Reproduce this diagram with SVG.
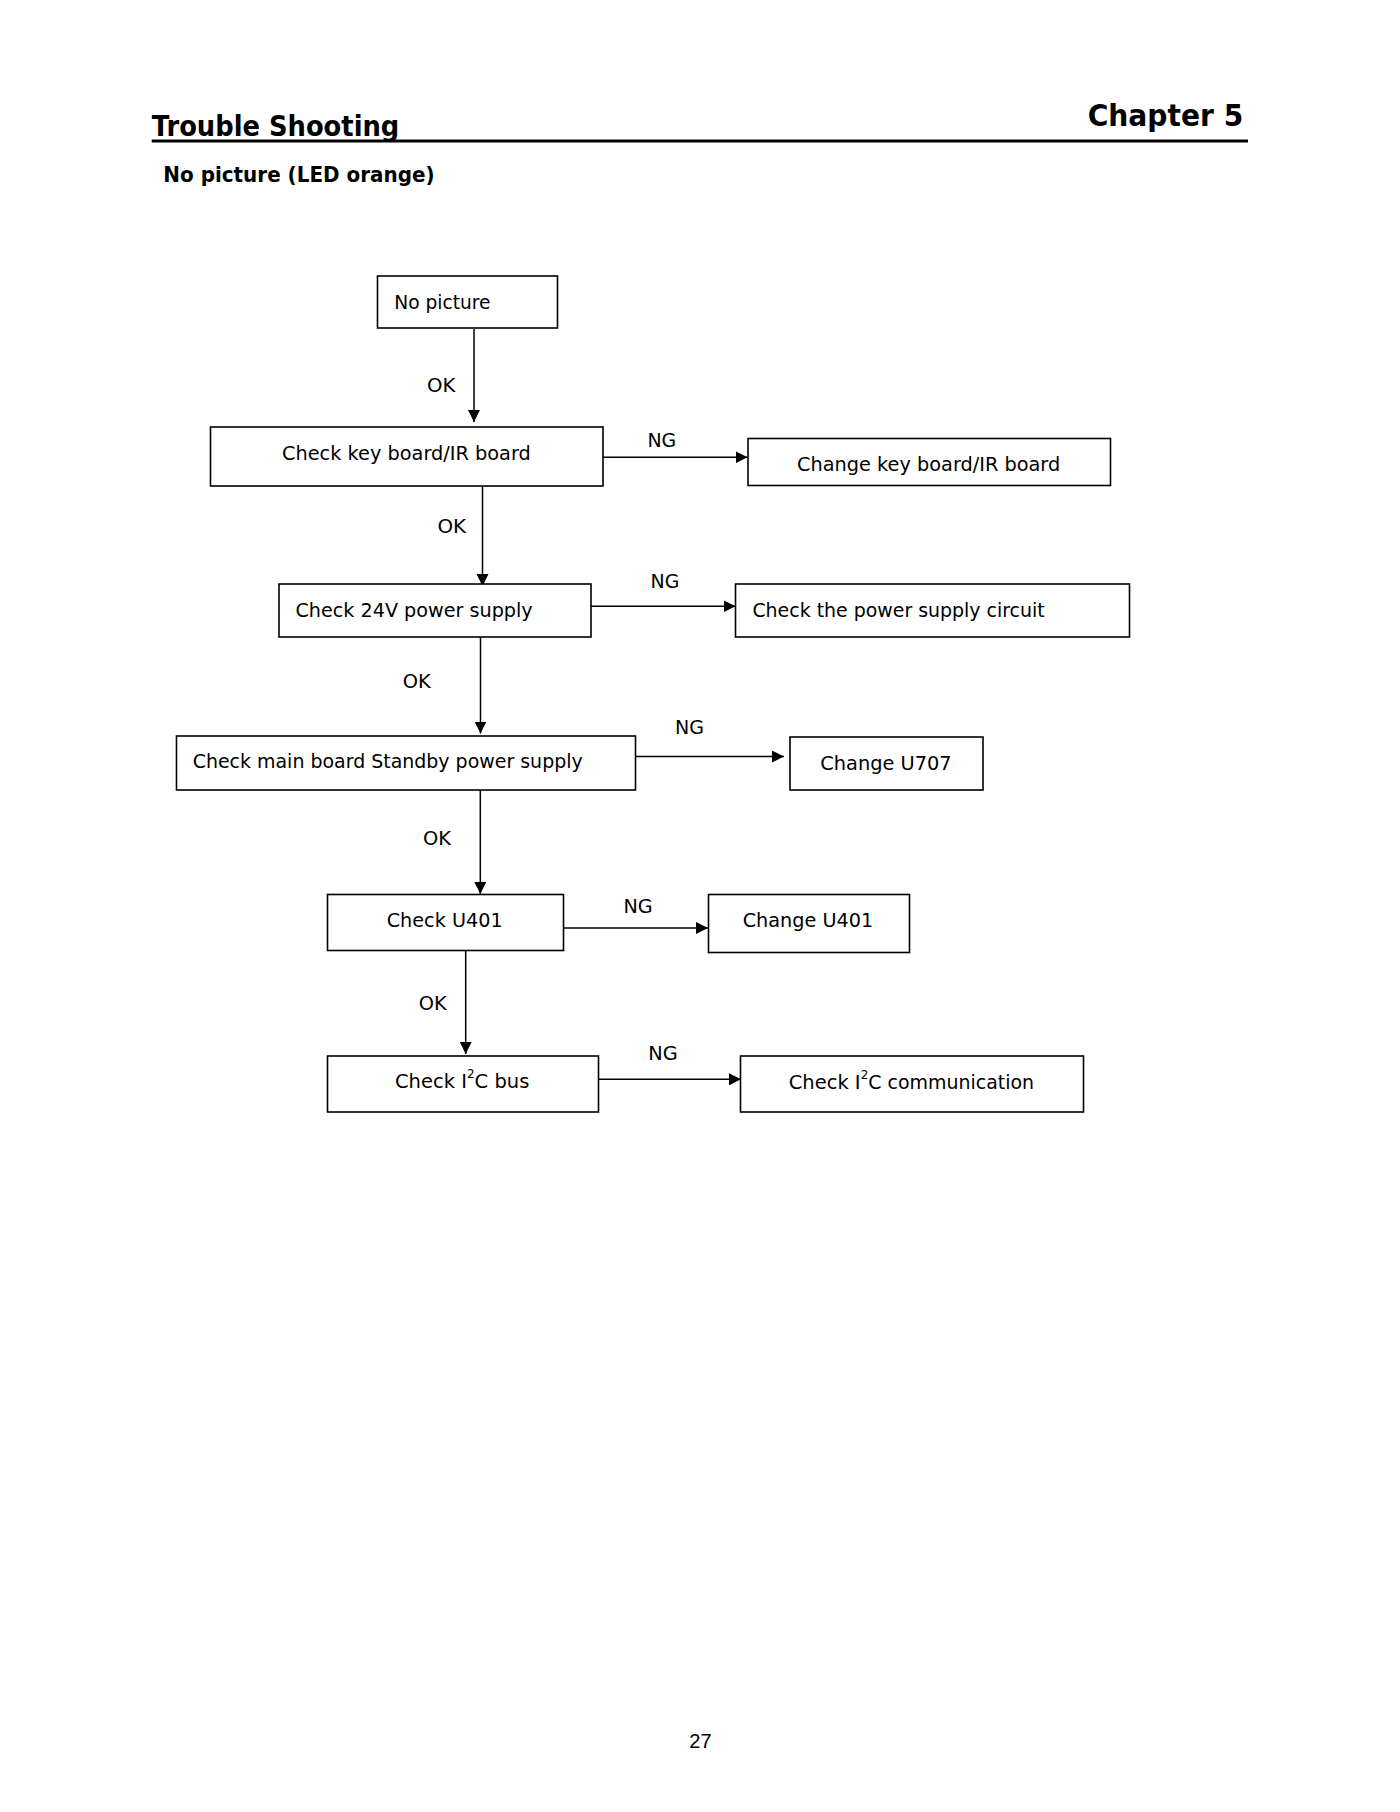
<svg xmlns="http://www.w3.org/2000/svg" width="1400" height="1812" viewBox="0 0 1400 1812">
<style>
.bg{fill:#ffffff}
.box{fill:#ffffff;stroke:#000000;stroke-width:1.6}
.t{font-family:"DejaVu Sans","Liberation Sans",sans-serif;font-size:19.5px;fill:#000000}
.lbl{font-family:"DejaVu Sans","Liberation Sans",sans-serif;font-size:19.5px;fill:#000000}
.hd{font-family:"DejaVu Sans","Liberation Sans",sans-serif;font-weight:bold;fill:#000000}
.sup{font-size:12px}
.ln{fill:none;stroke:#000000;stroke-width:1.5}
</style>
<defs>
<marker id="arr" markerUnits="userSpaceOnUse" markerWidth="12" markerHeight="12" refX="12" refY="6" orient="auto">
<path d="M0,0 L12,6 L0,12 z" fill="#000000"/>
</marker>
</defs>
<rect class="bg" x="0" y="0" width="1400" height="1812"/>

<g id="header">
<text class="hd" x="151.7" y="135.7" font-size="28" textLength="247.6" lengthAdjust="spacingAndGlyphs">Trouble Shooting</text>
<text class="hd" x="1087.7" y="126" font-size="30" textLength="155.6" lengthAdjust="spacingAndGlyphs">Chapter 5</text>
<line x1="151.7" y1="141" x2="1248" y2="141" stroke="#000000" stroke-width="2.8"/>
<text class="hd" x="163.3" y="182.3" font-size="21" textLength="271.4" lengthAdjust="spacingAndGlyphs">No picture (LED orange)</text>
</g>

<g id="connectors">
<line class="ln" x1="474" y1="329" x2="474" y2="422" marker-end="url(#arr)"/>
<line class="ln" x1="482.5" y1="482" x2="482.5" y2="586" marker-end="url(#arr)"/>
<line class="ln" x1="480.5" y1="637" x2="480.5" y2="733.5" marker-end="url(#arr)"/>
<line class="ln" x1="480.3" y1="790" x2="480.3" y2="894" marker-end="url(#arr)"/>
<line class="ln" x1="465.7" y1="950" x2="465.7" y2="1054" marker-end="url(#arr)"/>
<line class="ln" x1="603" y1="457.3" x2="747.5" y2="457.3" marker-end="url(#arr)"/>
<line class="ln" x1="591" y1="606.2" x2="735.5" y2="606.2" marker-end="url(#arr)"/>
<line class="ln" x1="635.3" y1="756.5" x2="784" y2="756.5" marker-end="url(#arr)"/>
<line class="ln" x1="563.5" y1="928" x2="708" y2="928" marker-end="url(#arr)"/>
<line class="ln" x1="598.3" y1="1079.3" x2="741" y2="1079.3" marker-end="url(#arr)"/>
<text class="lbl" x="427" y="391.7" textLength="28.4" lengthAdjust="spacingAndGlyphs">OK</text>
<text class="lbl" x="437.4" y="532.7" textLength="28.7" lengthAdjust="spacingAndGlyphs">OK</text>
<text class="lbl" x="402.7" y="688.3" textLength="28" lengthAdjust="spacingAndGlyphs">OK</text>
<text class="lbl" x="423" y="845" textLength="28" lengthAdjust="spacingAndGlyphs">OK</text>
<text class="lbl" x="418.7" y="1010" textLength="28" lengthAdjust="spacingAndGlyphs">OK</text>
<text class="lbl" x="647.4" y="446.7" textLength="28.8" lengthAdjust="spacingAndGlyphs">NG</text>
<text class="lbl" x="650.6" y="587.8" textLength="28.8" lengthAdjust="spacingAndGlyphs">NG</text>
<text class="lbl" x="675" y="734.3" textLength="29" lengthAdjust="spacingAndGlyphs">NG</text>
<text class="lbl" x="623.5" y="912.5" textLength="29.2" lengthAdjust="spacingAndGlyphs">NG</text>
<text class="lbl" x="648.3" y="1060" textLength="29.4" lengthAdjust="spacingAndGlyphs">NG</text>
</g>

<g id="n1">
<rect class="box" x="377.5" y="276" width="180" height="52"/>
<text class="t" x="394.2" y="309.3" textLength="96.4" lengthAdjust="spacingAndGlyphs">No picture</text>
</g>
<g id="n2">
<rect class="box" x="210.5" y="427" width="392.5" height="59"/>
<text class="t" x="282" y="460" textLength="248.8" lengthAdjust="spacingAndGlyphs">Check key board/IR board</text>
</g>
<g id="n3">
<rect class="box" x="748" y="438.5" width="362.5" height="47"/>
<text class="t" x="797.1" y="471.3" textLength="263.1" lengthAdjust="spacingAndGlyphs">Change key board/IR board</text>
</g>
<g id="n4">
<rect class="box" x="279" y="584" width="312" height="53"/>
<text class="t" x="295.4" y="616.7" textLength="237.3" lengthAdjust="spacingAndGlyphs">Check 24V power supply</text>
</g>
<g id="n5">
<rect class="box" x="735.5" y="584" width="394" height="53"/>
<text class="t" x="752.4" y="617.3" textLength="292.3" lengthAdjust="spacingAndGlyphs">Check the power supply circuit</text>
</g>
<g id="n6">
<rect class="box" x="176.5" y="736" width="459" height="54"/>
<text class="t" x="192.7" y="767.7" textLength="390" lengthAdjust="spacingAndGlyphs">Check main board Standby power supply</text>
</g>
<g id="n7">
<rect class="box" x="790" y="737" width="193" height="53"/>
<text class="t" x="820.3" y="770" textLength="131.4" lengthAdjust="spacingAndGlyphs">Change U707</text>
</g>
<g id="n8">
<rect class="box" x="327.5" y="894.5" width="236" height="56"/>
<text class="t" x="386.7" y="926.7" textLength="116" lengthAdjust="spacingAndGlyphs">Check U401</text>
</g>
<g id="n9">
<rect class="box" x="708.5" y="894.5" width="201" height="58"/>
<text class="t" x="742.7" y="926.7" textLength="130.6" lengthAdjust="spacingAndGlyphs">Change U401</text>
</g>
<g id="n10">
<rect class="box" x="327.5" y="1056" width="271" height="56"/>
<text class="t" x="395" y="1087.7">Check I<tspan class="sup" dy="-9.5">2</tspan><tspan dy="9.5">C bus</tspan></text>
</g>
<g id="n11">
<rect class="box" x="740.5" y="1056" width="343" height="56"/>
<text class="t" x="788.7" y="1088.7">Check I<tspan class="sup" dy="-9.5">2</tspan><tspan dy="9.5" textLength="165.8" lengthAdjust="spacingAndGlyphs">C communication</tspan></text>
</g>

<g id="footer">
<text x="689.3" y="1747.7" font-family="'Liberation Sans',Arial,sans-serif" font-size="20" fill="#000000">27</text>
</g>
</svg>
